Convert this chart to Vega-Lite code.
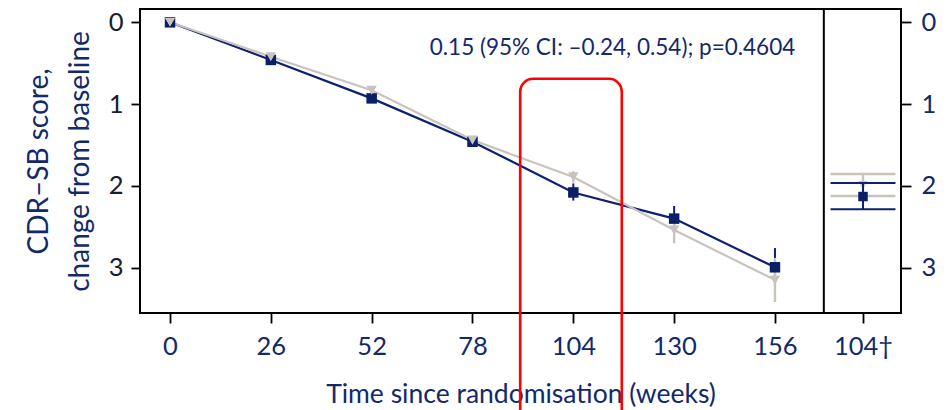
{
  "$schema": "https://vega.github.io/schema/vega-lite/v6.json",
  "width": 761,
  "height": 304,
  "autosize": {"type": "none"},
  "padding": {"left": 140, "top": 9, "right": 49, "bottom": 97},
  "config": {
    "font": "Lato",
    "view": {"stroke": "#000000", "strokeWidth": 2},
    "axis": {"grid": false, "domain": false, "tickColor": "#000000", "tickWidth": 1.8, "labelFont": "Lato", "titleFont": "Lato", "titleFontWeight": "normal"}
  },
  "datasets": {
    "main": [
      {"arm": "A", "week": 0, "mean": 0, "lo": 0, "hi": 0},
      {"arm": "A", "week": 26, "mean": 0.46, "lo": 0.42, "hi": 0.5},
      {"arm": "A", "week": 52, "mean": 0.93, "lo": 0.88, "hi": 0.98},
      {"arm": "A", "week": 78, "mean": 1.46, "lo": 1.41, "hi": 1.51},
      {"arm": "A", "week": 104, "mean": 2.08, "lo": 1.97, "hi": 2.18},
      {"arm": "A", "week": 130, "mean": 2.4, "lo": 2.245, "hi": 2.555},
      {"arm": "A", "week": 156, "mean": 2.995, "lo": 2.76, "hi": 3.23},
      {"arm": "B", "week": 0, "mean": 0, "lo": 0, "hi": 0},
      {"arm": "B", "week": 26, "mean": 0.42, "lo": 0.38, "hi": 0.46},
      {"arm": "B", "week": 52, "mean": 0.83, "lo": 0.78, "hi": 0.88},
      {"arm": "B", "week": 78, "mean": 1.44, "lo": 1.39, "hi": 1.49},
      {"arm": "B", "week": 104, "mean": 1.89, "lo": 1.82, "hi": 1.96},
      {"arm": "B", "week": 130, "mean": 2.54, "lo": 2.38, "hi": 2.7},
      {"arm": "B", "week": 156, "mean": 3.15, "lo": 2.88, "hi": 3.42}
    ],
    "side": [
      {"arm": "B", "week": 178.7, "mean": 1.99, "lo": 1.855, "hi": 2.123},
      {"arm": "A", "week": 178.7, "mean": 2.13, "lo": 1.965, "hi": 2.286}
    ],
    "box": [{"x1": 90.3, "x2": 116.5, "y1": 0.69, "y2": 5.3}],
    "note": [{"week": 114.1, "value": 0.31, "label": "0.15 (95% CI: –0.24, 0.54); p=0.4604"}],
    "divider": [{"week": 168.6}]
  },
  "resolve": {"axis": {"y": "independent"}},
  "layer": [
    {
      "data": {"name": "divider"},
      "mark": {"type": "rule", "color": "#000000", "strokeWidth": 2},
      "encoding": {
        "x": {
          "field": "week", "type": "quantitative",
          "scale": {"domain": [-7.74, 188.5], "nice": false, "zero": false},
          "axis": {
            "values": [0, 26, 52, 78, 104, 130, 156, 178.7],
            "labelExpr": "datum.value > 170 ? '104†' : datum.label",
            "tickSize": 10,
            "labelFontSize": 25.5,
            "labelColor": "#12296b",
            "labelPadding": 11,
            "labelFlush": false,
            "labelOverlap": false,
            "title": "Time since randomisation (weeks)",
            "titleFontSize": 26.5,
            "titleColor": "#12296b",
            "titlePadding": 22
          }
        }
      }
    },
    {
      "data": {"name": "main"},
      "transform": [{"filter": "datum.arm == 'A'"}],
      "mark": {"type": "rule", "color": "#0c2170", "strokeWidth": 2},
      "encoding": {
        "x": {"field": "week", "type": "quantitative"},
        "y": {
          "field": "lo", "type": "quantitative",
          "scale": {"domain": [-0.163, 3.554], "reverse": true, "nice": false, "zero": false},
          "axis": {
            "orient": "left",
            "values": [0, 1, 2, 3],
            "tickSize": 9,
            "labelFontSize": 25.5,
            "labelColor": "#16202e",
            "labelPadding": 8,
            "labelFlush": false,
            "title": ["CDR–SB score,", "change from baseline"],
            "titleFontSize": 28,
            "titleColor": "#12296b",
            "titleLineHeight": 41,
            "titlePadding": 14
          }
        },
        "y2": {"field": "hi"}
      }
    },
    {
      "data": {"name": "main"},
      "transform": [{"filter": "datum.arm == 'A'"}],
      "mark": {"type": "line", "color": "#0c2170", "strokeWidth": 2.2},
      "encoding": {
        "x": {"field": "week", "type": "quantitative"},
        "y": {"field": "mean", "type": "quantitative", "axis": null}
      }
    },
    {
      "data": {"name": "main"},
      "transform": [{"filter": "datum.arm == 'B'"}],
      "mark": {"type": "rule", "color": "#c8c3bc", "strokeWidth": 2.4},
      "encoding": {
        "x": {"field": "week", "type": "quantitative"},
        "y": {"field": "lo", "type": "quantitative", "axis": null},
        "y2": {"field": "hi"}
      }
    },
    {
      "data": {"name": "main"},
      "transform": [{"filter": "datum.arm == 'B'"}],
      "mark": {"type": "line", "color": "#c8c3bc", "strokeWidth": 2.2},
      "encoding": {
        "x": {"field": "week", "type": "quantitative"},
        "y": {
          "field": "mean", "type": "quantitative",
          "axis": {
            "orient": "right",
            "values": [0, 1, 2, 3],
            "tickSize": 10,
            "labelFontSize": 25.5,
            "labelColor": "#12296b",
            "labelPadding": 10,
            "labelFlush": false,
            "title": null
          }
        }
      }
    },
    {
      "data": {"name": "main"},
      "transform": [{"filter": "datum.arm == 'A'"}],
      "mark": {"type": "point", "shape": "square", "filled": true, "color": "#0b1f66", "size": 110, "opacity": 1},
      "encoding": {
        "x": {"field": "week", "type": "quantitative"},
        "y": {"field": "mean", "type": "quantitative", "axis": null}
      }
    },
    {
      "data": {"name": "main"},
      "transform": [{"filter": "datum.arm == 'B'"}],
      "mark": {"type": "point", "shape": "triangle-down", "filled": true, "color": "#c8c3bc", "size": 110, "opacity": 1},
      "encoding": {
        "x": {"field": "week", "type": "quantitative"},
        "y": {"field": "mean", "type": "quantitative", "axis": null}
      }
    },
    {
      "data": {"name": "side"},
      "transform": [{"filter": "datum.arm == 'B'"}],
      "mark": {"type": "rule", "color": "#c8c3bc", "strokeWidth": 2.4},
      "encoding": {
        "x": {"field": "week", "type": "quantitative"},
        "y": {"field": "lo", "type": "quantitative", "axis": null},
        "y2": {"field": "hi"}
      }
    },
    {
      "data": {"name": "side"},
      "transform": [{"filter": "datum.arm == 'B'"}],
      "mark": {"type": "tick", "orient": "horizontal", "color": "#c8c3bc", "size": 65, "thickness": 2.4, "opacity": 1},
      "encoding": {
        "x": {"field": "week", "type": "quantitative"},
        "y": {"field": "lo", "type": "quantitative", "axis": null}
      }
    },
    {
      "data": {"name": "side"},
      "transform": [{"filter": "datum.arm == 'B'"}],
      "mark": {"type": "tick", "orient": "horizontal", "color": "#c8c3bc", "size": 65, "thickness": 2.4, "opacity": 1},
      "encoding": {
        "x": {"field": "week", "type": "quantitative"},
        "y": {"field": "hi", "type": "quantitative", "axis": null}
      }
    },
    {
      "data": {"name": "side"},
      "transform": [{"filter": "datum.arm == 'B'"}],
      "mark": {"type": "point", "shape": "triangle-down", "filled": true, "color": "#c8c3bc", "size": 90, "opacity": 1},
      "encoding": {
        "x": {"field": "week", "type": "quantitative"},
        "y": {"field": "mean", "type": "quantitative", "axis": null}
      }
    },
    {
      "data": {"name": "side"},
      "transform": [{"filter": "datum.arm == 'A'"}],
      "mark": {"type": "rule", "color": "#0c2170", "strokeWidth": 2},
      "encoding": {
        "x": {"field": "week", "type": "quantitative"},
        "y": {"field": "lo", "type": "quantitative", "axis": null},
        "y2": {"field": "hi"}
      }
    },
    {
      "data": {"name": "side"},
      "transform": [{"filter": "datum.arm == 'A'"}],
      "mark": {"type": "tick", "orient": "horizontal", "color": "#0c2170", "size": 65, "thickness": 2, "opacity": 1},
      "encoding": {
        "x": {"field": "week", "type": "quantitative"},
        "y": {"field": "lo", "type": "quantitative", "axis": null}
      }
    },
    {
      "data": {"name": "side"},
      "transform": [{"filter": "datum.arm == 'A'"}],
      "mark": {"type": "tick", "orient": "horizontal", "color": "#0c2170", "size": 65, "thickness": 2, "opacity": 1},
      "encoding": {
        "x": {"field": "week", "type": "quantitative"},
        "y": {"field": "hi", "type": "quantitative", "axis": null}
      }
    },
    {
      "data": {"name": "side"},
      "transform": [{"filter": "datum.arm == 'A'"}],
      "mark": {"type": "point", "shape": "square", "filled": true, "color": "#0b1f66", "size": 90, "opacity": 1},
      "encoding": {
        "x": {"field": "week", "type": "quantitative"},
        "y": {"field": "mean", "type": "quantitative", "axis": null}
      }
    },
    {
      "data": {"name": "note"},
      "mark": {"type": "text", "font": "Lato", "fontSize": 22.5, "color": "#12296b", "align": "center", "baseline": "middle"},
      "encoding": {
        "x": {"field": "week", "type": "quantitative"},
        "y": {"field": "value", "type": "quantitative", "axis": null},
        "text": {"field": "label"}
      }
    },
    {
      "data": {"name": "box"},
      "mark": {"type": "rect", "fill": null, "fillOpacity": 0, "stroke": "#ff0000", "strokeWidth": 2.6, "cornerRadius": 13, "clip": false},
      "encoding": {
        "x": {"field": "x1", "type": "quantitative"},
        "x2": {"field": "x2"},
        "y": {"field": "y1", "type": "quantitative", "axis": null},
        "y2": {"field": "y2"}
      }
    }
  ]
}
